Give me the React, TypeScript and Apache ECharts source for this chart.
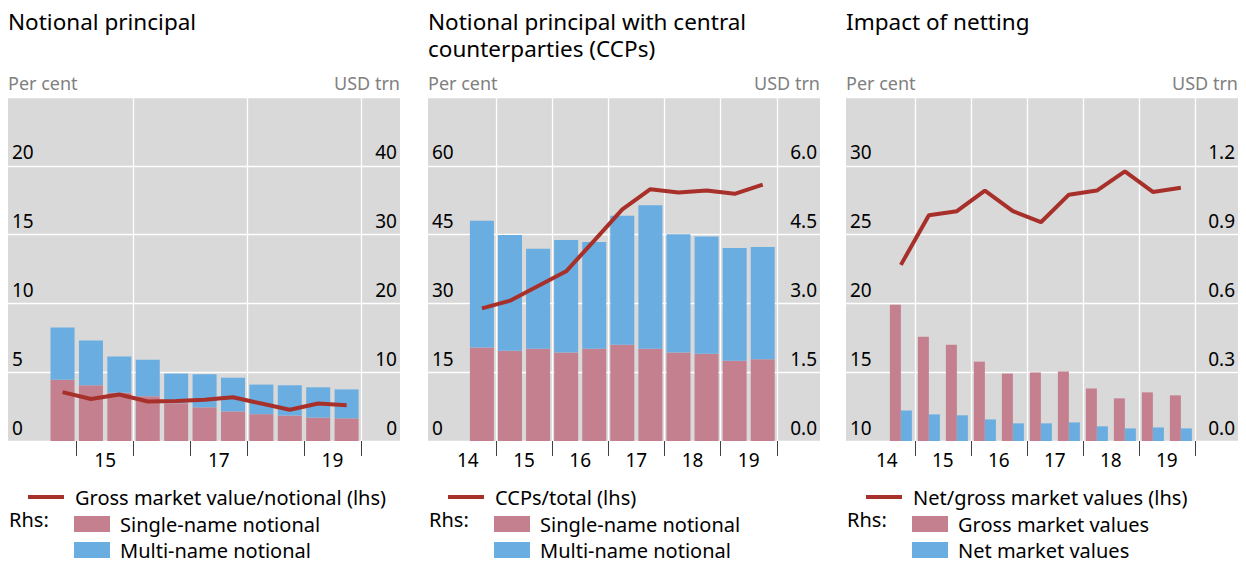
import React, { useEffect, useRef } from "react";
import * as echarts from "echarts";

const FONT = "'Noto Sans', 'DejaVu Sans', sans-serif";

// Half-year periods (bars are centred in their half-year)
const periods = ["2014H2", "2015H1", "2015H2", "2016H1", "2016H2", "2017H1", "2017H2", "2018H1", "2018H2", "2019H1", "2019H2"];
const yearTicks = [2015, 2016, 2017, 2018, 2019, 2020];
const p1GridYears = [2016, 2018, 2020];
const p1LabelYears = [2015, 2017, 2019];
const p23LabelYears = [2014, 2015, 2016, 2017, 2018, 2019];

// Panel 1: Notional principal
const p1Single = [8.9, 8.1, 7.0, 6.5, 5.5, 4.9, 4.3, 3.9, 3.7, 3.4, 3.3];
const p1Multi = [7.6, 6.5, 5.3, 5.3, 4.3, 4.8, 4.9, 4.3, 4.4, 4.4, 4.2];
const p1GrossRatio = [3.55, 3.05, 3.38, 2.87, 2.9, 3.0, 3.18, 2.72, 2.27, 2.73, 2.6];

// Panel 2: Notional principal with CCPs
const p2Single = [2.04, 1.97, 2.01, 1.93, 2.01, 2.1, 2.01, 1.93, 1.9, 1.75, 1.78];
const p2Multi = [2.76, 2.52, 2.18, 2.45, 2.33, 2.81, 3.13, 2.58, 2.56, 2.46, 2.45];
const p2CcpShare = [28.9, 30.6, 33.8, 37.0, 43.7, 50.5, 54.9, 54.2, 54.6, 53.9, 55.9];

// Panel 3: Impact of netting
const p3Gross = [0.594, 0.455, 0.42, 0.346, 0.294, 0.299, 0.303, 0.229, 0.186, 0.212, 0.199];
const p3Net = [0.133, 0.116, 0.112, 0.094, 0.077, 0.077, 0.081, 0.064, 0.055, 0.059, 0.055];
const p3NetGross = [22.8, 26.4, 26.7, 28.2, 26.7, 25.9, 27.9, 28.2, 29.6, 28.1, 28.4];

const PINK = "#c4808e";
const BLUE = "#6aade0";
const RED = "#a8302b";
const GREY_BG = "#d9d9d9";

const toX = (p: string) => parseInt(p.slice(0, 4), 10) + (p.endsWith("H1") ? 0.25 : 0.75);
// line data: [x, y]
const pts = (vals: number[]) => vals.map((v, i) => [toX(periods[i]), v]);
// bar data: [value, x] so that the value dimension is the stacked one
const barPts = (vals: number[]) => vals.map((v, i) => [v, toX(periods[i])]);

const GRID_TOP = 97;
const GRID_H = 344;
const GRID_W = 392;
const lefts = [8, 428, 846];

function mainXAxis(grid: number, min: number, max: number, labelYears: number[], split: boolean) {
  return {
    type: "value",
    gridIndex: grid,
    min,
    max,
    position: "bottom",
    axisLine: { show: false },
    axisTick: { show: true, customValues: yearTicks, length: 15, lineStyle: { color: "#404040", width: 1 } },
    axisLabel: {
      customValues: labelYears.map((y) => y + 0.5),
      formatter: (v: number) => String(Math.floor(v) % 100),
      fontSize: 19,
      color: "#000",
      margin: 9,
      fontFamily: FONT,
    },
    splitLine: { show: split, lineStyle: { color: "#ffffff", width: 1.3 } },
  };
}

function yAxes(grid: number, l: any, r: any) {
  const common = {
    type: "value",
    gridIndex: grid,
    nameLocation: "end",
    nameGap: 14,
    axisLine: { show: false },
    axisTick: { show: false },
  };
  const lab = {
    inside: true,
    margin: 4,
    verticalAlign: "bottom",
    showMaxLabel: false,
    fontSize: 19,
    color: "#000",
    fontFamily: FONT,
    padding: [0, 0, 4, 0],
  };
  return [
    {
      ...common,
      position: "left",
      name: "Per cent",
      min: l.min,
      max: l.max,
      interval: l.interval,
      nameTextStyle: { color: "#808080", fontSize: 18, align: "left", verticalAlign: "middle", fontFamily: FONT },
      axisLabel: { ...lab },
      splitLine: { show: true, lineStyle: { color: "#ffffff", width: 1.3 } },
    },
    {
      ...common,
      position: "right",
      name: "USD trn",
      min: r.min,
      max: r.max,
      interval: r.interval,
      nameTextStyle: { color: "#808080", fontSize: 18, align: "right", verticalAlign: "middle", fontFamily: FONT },
      axisLabel: { ...lab, margin: 3, formatter: r.fmt },
      splitLine: { show: false },
    },
  ];
}

function legendPair(x0: number, lineName: string, barNames: string[]) {
  const ts = { fontSize: 20, color: "#000", fontFamily: FONT, lineHeight: 22 };
  return [
    {
      data: [lineName],
      left: x0 + 20,
      top: 486,
      padding: 0,
      icon: "rect",
      itemWidth: 36,
      itemHeight: 4,
      selectedMode: false,
      textStyle: { ...ts, padding: [0, 0, 0, 6] },
    },
    {
      data: barNames,
      orient: "vertical",
      left: x0 + 66,
      top: 513,
      padding: 0,
      icon: "rect",
      itemWidth: 36,
      itemHeight: 16,
      itemGap: 4,
      selectedMode: false,
      textStyle: { ...ts, padding: [0, 0, 0, 5] },
    },
  ];
}

function barSeries(name: string, xi: number, yi: number, vals: number[], color: string, extra: any) {
  return {
    name,
    type: "bar",
    xAxisIndex: xi,
    yAxisIndex: yi,
    dimensions: ["value", "period"],
    encode: { x: "period", y: "value" },
    data: barPts(vals),
    itemStyle: { color },
    ...extra,
  };
}

function lineSeries(name: string, xi: number, yi: number, vals: number[]) {
  return {
    name,
    type: "line",
    xAxisIndex: xi,
    yAxisIndex: yi,
    data: pts(vals),
    symbol: "none",
    lineStyle: { color: RED, width: 4 },
    itemStyle: { color: RED },
  };
}

export default function App() {
  const ref = useRef<HTMLDivElement>(null);
  useEffect(() => {
    document.body.style.margin = "0";
    if (!ref.current) return;
    const chart = echarts.init(ref.current, undefined, { renderer: "svg" });
    const titleStyle = { fontSize: 22.5, fontWeight: "normal", color: "#000", fontFamily: FONT, lineHeight: 27 };
    const option: any = {
      animation: false,
      textStyle: { fontFamily: FONT },
      title: [
        { text: "Notional principal", left: lefts[0], top: 8, padding: 0, textStyle: titleStyle },
        { text: "Notional principal with central\ncounterparties (CCPs)", left: lefts[1], top: 8, padding: 0, textStyle: titleStyle },
        { text: "Impact of netting", left: lefts[2], top: 8, padding: 0, textStyle: titleStyle },
      ],
      grid: lefts.map((l) => ({
        left: l,
        top: GRID_TOP,
        width: GRID_W,
        height: GRID_H,
        show: true,
        backgroundColor: GREY_BG,
        borderWidth: 0,
      })),
      xAxis: [
        mainXAxis(0, 2013.79, 2020.69, p1LabelYears, false),
        {
          type: "value",
          gridIndex: 0,
          min: 2013.79,
          max: 2020.69,
          axisLine: { show: false },
          axisTick: { show: false, customValues: p1GridYears, length: 0 },
          axisLabel: { show: false, customValues: p1GridYears },
          splitLine: { show: true, lineStyle: { color: "#ffffff", width: 1.3 } },
        },
        mainXAxis(1, 2013.79, 2020.77, p23LabelYears, true),
        mainXAxis(2, 2013.77, 2020.77, p23LabelYears, true),
      ],
      yAxis: [
        ...yAxes(0, { min: 0, max: 25, interval: 5 }, { min: 0, max: 50, interval: 10 }),
        ...yAxes(1, { min: 0, max: 75, interval: 15 }, { min: 0, max: 7.5, interval: 1.5, fmt: (v: number) => v.toFixed(1) }),
        ...yAxes(2, { min: 10, max: 35, interval: 5 }, { min: 0, max: 1.5, interval: 0.3, fmt: (v: number) => v.toFixed(1) }),
      ],
      legend: [
        ...legendPair(lefts[0], "Gross market value/notional (lhs)", ["Single-name notional", "Multi-name notional"]),
        ...legendPair(lefts[1], "CCPs/total (lhs)", ["Single-name notional ", "Multi-name notional "]),
        ...legendPair(lefts[2], "Net/gross market values (lhs)", ["Gross market values", "Net market values"]),
      ],
      graphic: lefts.map((l) => ({
        type: "text",
        left: l + 1,
        top: 509,
        style: { text: "Rhs:", font: `20px ${FONT}`, fill: "#000" },
      })),
      series: [
        // Panel 1
        barSeries("Single-name notional", 0, 1, p1Single, PINK, { stack: "p1", barWidth: 24 }),
        barSeries("Multi-name notional", 0, 1, p1Multi, BLUE, { stack: "p1", barWidth: 24 }),
        lineSeries("Gross market value/notional (lhs)", 0, 0, p1GrossRatio),
        // Panel 2
        barSeries("Single-name notional ", 2, 3, p2Single, PINK, { stack: "p2", barWidth: 24 }),
        barSeries("Multi-name notional ", 2, 3, p2Multi, BLUE, { stack: "p2", barWidth: 24 }),
        lineSeries("CCPs/total (lhs)", 2, 2, p2CcpShare),
        // Panel 3
        barSeries("Gross market values", 3, 5, p3Gross, PINK, { barWidth: 11, barGap: "0%" }),
        barSeries("Net market values", 3, 5, p3Net, BLUE, { barWidth: 11, barGap: "0%" }),
        lineSeries("Net/gross market values (lhs)", 3, 4, p3NetGross),
      ],
    };
    chart.setOption(option);
    return () => chart.dispose();
  }, []);
  return <div ref={ref} style={{ width: 1246, height: 563 }} />;
}
